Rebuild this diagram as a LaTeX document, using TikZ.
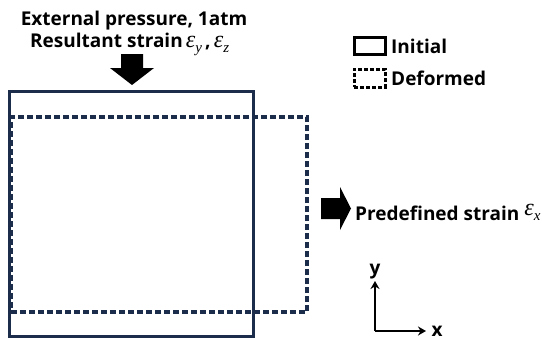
\documentclass[tikz,border=0pt]{standalone}
\usepackage{fontspec}
\setmainfont{Open Sans}
\newfontfamily\epsfont{Liberation Serif}
\usetikzlibrary{arrows.meta}
\definecolor{navy}{HTML}{1C2D4C}
\newcommand{\myeps}[3]{{\epsfont\mdseries\itshape\smash{\raisebox{#2}{\fontsize{24}{24}\selectfont ε}}\smash{\raisebox{#3}{\fontsize{15}{15}\selectfont #1}}}}
\tikzset{
  lbl/.style={font=\bfseries\fontsize{19}{21}\selectfont, inner sep=0pt},
  boxsolid/.style={draw=navy, line width=3pt, inner sep=0pt},
  boxdash/.style={draw=navy, line width=3.2pt, dash pattern=on 6pt off 3pt, inner sep=0pt},
  legsolid/.style={draw=black, line width=3pt, minimum width=31pt, minimum height=17pt, inner sep=0pt},
  legdash/.style={draw=black, line width=3pt, dash pattern=on 4pt off 2pt, minimum width=31pt, minimum height=18pt, inner sep=0pt},
  bigarrow/.style={fill=black, draw=none},
  axis/.style={line width=2.2pt, -{Stealth[length=8pt,width=9pt]}},
}
\begin{document}
\begin{tikzpicture}[x=1pt,y=-1pt]
\useasboundingbox (0,0) rectangle (542,340);
% main boxes
\node[boxsolid, minimum width=244pt, minimum height=245pt] (init) at (131,213.5) {};
\node[boxdash, minimum width=296pt, minimum height=195pt] (def) at (159,214.5) {};
% top text
\node[lbl, anchor=base] (t1) at (134,26) {External pressure, 1atm};
\node[lbl, anchor=base west] (t2) at (30,48) {Resultant strain\,\myeps{y}{0.5pt}{-5pt}\,,\,\myeps{z}{0.5pt}{-5pt}};
% down arrow
\fill[bigarrow] (121,54) -- (143,54) -- (143,68) -- (154,68) -- (132,85) -- (110,68) -- (121,68) -- cycle;
% right arrow
\fill[bigarrow] (321,198) -- (340,198) -- (340,187) -- (351,208.5) -- (340,230) -- (340,219) -- (321,219) -- cycle;
\node[lbl, anchor=base west] (pre) at (355,220) {Predefined strain \myeps{x}{5pt}{0pt}};
% legend
\node[legsolid] (leg1) at (369.5,45.5) {};
\node[lbl, anchor=west] (legt1) at (391,46) {Initial};
\node[legdash] (leg2) at (369.5,78) {};
\node[lbl, anchor=west] (legt2) at (391,78) {Deformed};
% axes
\coordinate (o) at (375,331);
\coordinate (ye) at (375,281);
\coordinate (xe) at (426,331);
\draw[axis] (o) -- (ye);
\draw[axis] (o) -- (xe);
\node[lbl] (ylab) at (375,272) {y};
\node[lbl] (xlab) at (437,331) {x};
\end{tikzpicture}
\end{document}
